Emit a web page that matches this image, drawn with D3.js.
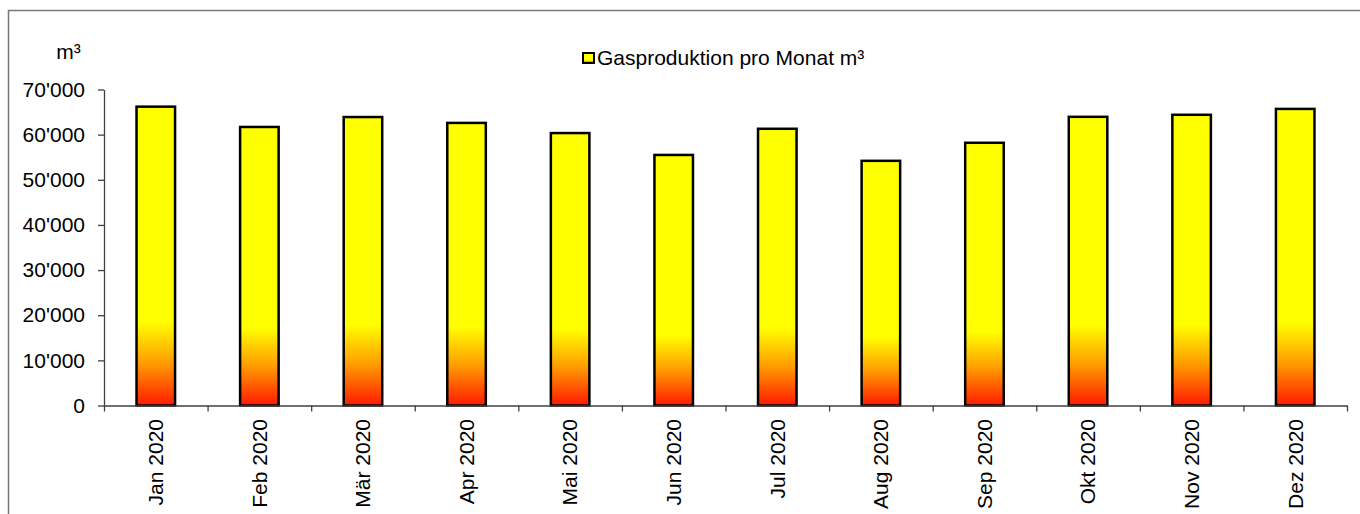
<!DOCTYPE html>
<html lang="de">
<head>
<meta charset="UTF-8">
<title>Gasproduktion pro Monat</title>
<script src="https://cdn.jsdelivr.net/npm/d3@7"></script>
<style>
    body{margin:0;background:#fff;}
    svg{display:block;font-family:"Liberation Sans",Arial,sans-serif;}
    .axis .domain,.axis line{stroke:#404040;stroke-width:1.3;}
    .axis text{font-size:21px;fill:#000;font-family:"Liberation Sans",Arial,sans-serif;}
</style>
</head>
<body>
<svg width="1360" height="514"></svg>
<script>
    // Daten
    var months = ['Jan 2020','Feb 2020','Mär 2020','Apr 2020','Mai 2020','Jun 2020',
                  'Jul 2020','Aug 2020','Sep 2020','Okt 2020','Nov 2020','Dez 2020'];
    var gas = [66200,61700,63900,62600,60350,55500,61300,54200,58200,63950,64400,65700];
    var yTicks = [0,10000,20000,30000,40000,50000,60000,70000];
    var seriesName = 'Gasproduktion pro Monat m³';
    var unitLabel = 'm³';

    var svg = d3.select('svg'),
        plotLeft = 104, plotRight = 1347, plotTop = 89.5, plotBottom = 405.5;

    // Rahmen
    svg.append('rect')
        .attr('x',8.5).attr('y',10.5)
        .attr('width',1400).attr('height',600)
        .attr('fill','none').attr('stroke','#777').attr('stroke-width',1.5);

    // Verlauf gelb -> rot
    var grad = svg.append('defs').append('linearGradient')
        .attr('id','fire').attr('x1',0).attr('y1',0).attr('x2',0).attr('y2',1);
    grad.append('stop').attr('offset','0').attr('stop-color','#ffff00');
    grad.append('stop').attr('offset','0.72').attr('stop-color','#ffff00');
    grad.append('stop').attr('offset','0.86').attr('stop-color','#ff9a00');
    grad.append('stop').attr('offset','1').attr('stop-color','#ff1a00');

    var x = d3.scaleBand().domain(months).range([plotLeft,plotRight])
                .paddingInner(0.628).paddingOuter(0.314);
    var xl = d3.scaleLinear().domain([0,months.length]).range([plotLeft,plotRight]);
    var y = d3.scaleLinear().domain([0,70000]).range([plotBottom,plotTop]);

    var fmt = d3.formatLocale({decimal:'.',thousands:"'",grouping:[3],currency:['','']}).format(',d');

    // Balken
    svg.append('g').selectAll('rect')
        .data(gas)
        .enter().append('rect')
        .attr('x',function(d,i){return x(months[i]);})
        .attr('y',function(d){return y(d);})
        .attr('width',x.bandwidth())
        .attr('height',function(d){return y(0) - y(d);})
        .attr('fill','url(#fire)')
        .attr('stroke','#000')
        .attr('stroke-width',2.5);

    // y-Achse
    svg.append('g')
        .attr('class','axis')
        .attr('transform','translate('+ plotLeft +',0)')
        .call(d3.axisLeft(y).tickValues(yTicks).tickSize(6).tickSizeOuter(0).tickPadding(13).tickFormat(fmt));

    // x-Achse (Striche an den Kategoriegrenzen)
    svg.append('g')
        .attr('class','axis')
        .attr('transform','translate(0,'+ plotBottom +')')
        .call(d3.axisBottom(xl).tickValues(d3.range(months.length+1)).tickSize(6).tickSizeOuter(0).tickFormat(''));

    // x-Beschriftung senkrecht
    svg.append('g').selectAll('text')
        .data(months)
        .enter().append('text')
        .attr('transform',function(d){return 'translate('+ (x(d)+x.bandwidth()/2) +',419) rotate(-90)';})
        .attr('dy','0.35em')
        .attr('text-anchor','end')
        .attr('font-size',21)
        .text(function(d){return d;});

    // Einheit
    svg.append('text')
        .attr('x',68.5).attr('y',59)
        .attr('text-anchor','middle')
        .attr('font-size',21)
        .text(unitLabel);

    // Legende
    var legend = svg.append('g').attr('transform','translate(583,53)');
    legend.append('rect')
        .attr('width',11).attr('height',10)
        .attr('fill','url(#fire)').attr('stroke','#000').attr('stroke-width',2);
    legend.append('text')
        .attr('x',14).attr('y',5)
        .attr('dy','0.35em')
        .attr('font-size',21)
        .text(seriesName);
</script>
</body>
</html>
